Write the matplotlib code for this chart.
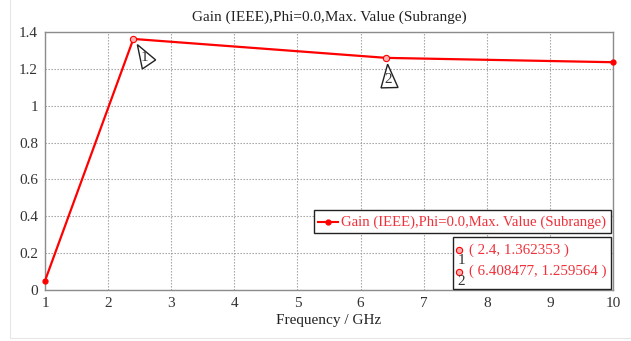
import matplotlib.pyplot as plt
from matplotlib.patches import Polygon, Rectangle
from matplotlib.lines import Line2D
from matplotlib.transforms import Affine2D

plt.rcParams['font.family'] = ['Liberation Serif', 'DejaVu Serif']

# Gain (IEEE) vs frequency, Phi = 0.0, max value per subrange
freq = [1.0, 2.4, 6.408477, 10.0]
gain = [0.05, 1.362353, 1.259564, 1.236]

marker_ids = ['1', '2']
marker_x = [2.4, 6.408477]
marker_y = [1.362353, 1.259564]
marker_text = ['( 2.4, 1.362353 )', '( 6.408477, 1.259564 )']

series_name = 'Gain (IEEE),Phi=0.0,Max. Value (Subrange)'
red = '#ff0000'
text_red = '#f0303a'

W, H = 631, 341
fig = plt.figure(figsize=(W / 100, H / 100), dpi=100)
ax = fig.add_axes([45 / W, 1 - 290 / H, (613 - 45) / W, (290 - 32) / H])


def fx(px):
    return px / W


def fy(py):
    return 1 - py / H


# faint outer frame
fig.patches.append(Rectangle((fx(10), fy(338)), fx(640) - fx(10), fy(-5) - fy(338),
                             transform=fig.transFigure, fill=False,
                             edgecolor='#e6e6e6', linewidth=0.8))

ax.plot(freq, gain, color=red, linewidth=1.6, zorder=3)
ax.plot([freq[0], freq[-1]], [gain[0], gain[-1]], 'o', color=red,
        markersize=3.5, zorder=4, clip_on=False)
ax.plot(marker_x, marker_y, 'o', markerfacecolor='#ffb0b0', markeredgecolor=red,
        markersize=4.5, markeredgewidth=0.8, zorder=4)

ax.set_xlim(1, 10)
ax.set_ylim(0, 1.4)
ax.set_xticks(range(1, 11))
ax.set_yticks([0, 0.2, 0.4, 0.6, 0.8, 1.0, 1.2, 1.4])
ax.set_yticklabels(['0', '0.2', '0.4', '0.6', '0.8', '1', '1.2', '1.4'])
ax.tick_params(length=0, labelsize=11, colors='#333333', pad=5)
ax.grid(True, color='#9a9a9a', linestyle=(0, (1.2, 1.5)), linewidth=0.8)
for s in ax.spines.values():
    s.set_color('#8c8c8c')
    s.set_linewidth(1.0)

ax.set_title(series_name, fontsize=11, color='#222222', pad=8)
ax.set_xlabel('Frequency / GHz', fontsize=11, color='#222222', labelpad=3)

# triangle flags next to the marked points (offsets in pixels)
flag_shapes = [
    [(4, -5.7), (9, -30), (22.3, -21)],
    [(1.3, -6.3), (-5.3, -30), (11.7, -29.6)],
]
flag_label_pos = [(11.5, -19), (2, -22)]
fig.canvas.draw()
for i in range(len(marker_ids)):
    px, py = ax.transData.transform((marker_x[i], marker_y[i]))
    tr = Affine2D().translate(px, py)
    ax.add_patch(Polygon(flag_shapes[i], closed=True, transform=tr,
                         facecolor='white', edgecolor='#222222',
                         linewidth=1.0, zorder=5, clip_on=False))
    lx, ly = flag_label_pos[i]
    ax.text(px + lx, py + ly, marker_ids[i], transform=None, fontsize=11,
            ha='center', va='center', color='#333333', zorder=6)

# series legend box
fig.patches.append(Rectangle((fx(314), fy(233)), fx(611) - fx(314), fy(210) - fy(233),
                             transform=fig.transFigure, facecolor='white',
                             edgecolor='#222222', linewidth=1.0, zorder=5))
fig.lines.append(Line2D([fx(318), fx(338)], [fy(221.5), fy(221.5)],
                        transform=fig.transFigure, color=red, linewidth=1.5,
                        zorder=6))
fig.lines.append(Line2D([fx(328)], [fy(221.5)], transform=fig.transFigure,
                        color=red, marker='o', markersize=3.5, zorder=6))
fig.text(fx(341), fy(222), series_name, fontsize=10.6, color=text_red,
         ha='left', va='center', zorder=6)

# marker readout box
fig.patches.append(Rectangle((fx(453), fy(289)), fx(611) - fx(453), fy(237) - fy(289),
                             transform=fig.transFigure, facecolor='white',
                             edgecolor='#222222', linewidth=1.0, zorder=5))
for i in range(len(marker_ids)):
    row_y = 250 + 21.5 * i
    fig.lines.append(Line2D([fx(459)], [fy(row_y)], transform=fig.transFigure,
                            marker='o', markerfacecolor='#ffb0b0', markeredgecolor=red,
                            markersize=4.5, markeredgewidth=0.8, zorder=6))
    fig.text(fx(461), fy(row_y + 10), marker_ids[i], fontsize=11, color='#333333',
             ha='center', va='center', zorder=6)
    fig.text(fx(469), fy(row_y), marker_text[i], fontsize=10.8, color=text_red,
             ha='left', va='center', zorder=6)

fig.savefig('out.png', dpi=100)
plt.close(fig)
